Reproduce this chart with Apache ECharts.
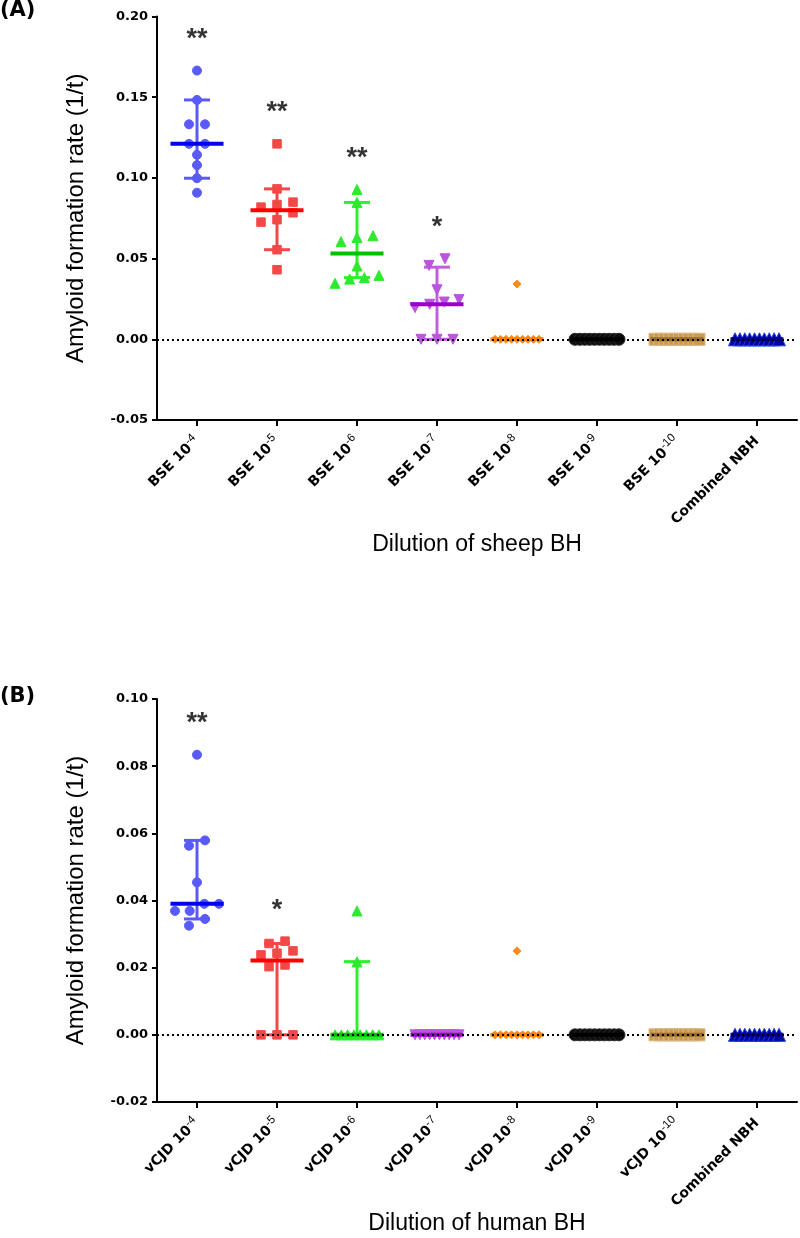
<!DOCTYPE html>
<html><head><meta charset="utf-8">
<script src="https://cdn.jsdelivr.net/npm/echarts@6/dist/echarts.min.js"></script>
<style>html,body{margin:0;padding:0;background:#fff}#c{width:800px;height:1238px}</style>
</head><body><div id="c"></div>
<script>
// ---------------- DATA ----------------
const categoriesA = ['BSE 10^-4','BSE 10^-5','BSE 10^-6','BSE 10^-7','BSE 10^-8','BSE 10^-9','BSE 10^-10','Combined NBH'];
const categoriesB = ['vCJD 10^-4','vCJD 10^-5','vCJD 10^-6','vCJD 10^-7','vCJD 10^-8','vCJD 10^-9','vCJD 10^-10','Combined NBH'];
const yTicksA = [-0.05, 0.00, 0.05, 0.10, 0.15, 0.20];
const yTicksB = [-0.02, 0.00, 0.02, 0.04, 0.06, 0.08, 0.10];

const pointsA_BSE4  = [0.1665, 0.1483, 0.1332, 0.1332, 0.1211, 0.1211, 0.1143, 0.1079, 0.0998, 0.0908];
const pointsA_BSE5  = [0.1211, 0.0932, 0.0850, 0.0819, 0.0835, 0.0784, 0.0741, 0.0726, 0.0555, 0.0431];
const pointsA_BSE6  = [0.0928, 0.0848, 0.0642, 0.0631, 0.0605, 0.0454, 0.0396, 0.0373, 0.0382, 0.0347];
const pointsA_BSE7  = [0.0499, 0.0458, 0.0307, 0.0247, 0.0231, 0.0217, 0.0196, 0.0, 0.0, 0.0];
const pointsA_BSE8  = [0.0342, 0, 0, 0, 0, 0, 0, 0, 0, 0];
const pointsA_BSE9  = [0, 0, 0, 0, 0, 0, 0, 0, 0, 0];
const pointsA_BSE10 = [0, 0, 0, 0, 0, 0, 0, 0, 0, 0];
const pointsA_NBH   = [0, 0, 0, 0, 0, 0, 0, 0, 0, 0];
const mediansA = [0.1211, 0.0800, 0.0532, 0.0217, 0, 0, 0, 0];
const errLowA  = [0.0998, 0.0555, 0.0382, 0.0, 0, 0, 0, 0];
const errHighA = [0.1483, 0.0932, 0.0848, 0.0447, 0, 0, 0, 0];
const starsA   = ['**', '**', '**', '*', '', '', '', ''];

const pointsB_vCJD4  = [0.0834, 0.0579, 0.0563, 0.0454, 0.0390, 0.0390, 0.0369, 0.0369, 0.0345, 0.0325];
const pointsB_vCJD5  = [0.0279, 0.0272, 0.0250, 0.0243, 0.0238, 0.0208, 0.0203, 0, 0, 0];
const pointsB_vCJD6  = [0.0369, 0.0217, 0, 0, 0, 0, 0, 0, 0, 0];
const pointsB_vCJD7  = [0, 0, 0, 0, 0, 0, 0, 0, 0, 0];
const pointsB_vCJD8  = [0.0250, 0, 0, 0, 0, 0, 0, 0, 0, 0];
const pointsB_vCJD9  = [0, 0, 0, 0, 0, 0, 0, 0, 0, 0];
const pointsB_vCJD10 = [0, 0, 0, 0, 0, 0, 0, 0, 0, 0];
const pointsB_NBH    = [0, 0, 0, 0, 0, 0, 0, 0, 0, 0];
const mediansB = [0.0390, 0.0221, 0, 0, 0, 0, 0, 0];
const errLowB  = [0.0345, 0, 0, 0, 0, 0, 0, 0];
const errHighB = [0.0579, 0.0272, 0.0218, 0, 0, 0, 0, 0];
const starsB   = ['**', '*', '', '', '', '', '', ''];

const pointsA = [pointsA_BSE4, pointsA_BSE5, pointsA_BSE6, pointsA_BSE7, pointsA_BSE8, pointsA_BSE9, pointsA_BSE10, pointsA_NBH];
const pointsB = [pointsB_vCJD4, pointsB_vCJD5, pointsB_vCJD6, pointsB_vCJD7, pointsB_vCJD8, pointsB_vCJD9, pointsB_vCJD10, pointsB_NBH];

// ---------------- STYLE ----------------
const groupStyles = [
  {symbol:'circle',   size:9,   rotate:0,   fill:'#5a5af6', border:'#5a5af6', err:'#5a5af6', med:'#0000ee'},
  {symbol:'rect',     size:8.5, rotate:0,   fill:'#f24848', border:'#f24848', err:'#f24848', med:'#ff0000'},
  {symbol:'triangle', size:10,  rotate:0,   fill:'#2eea2e', border:'#2eea2e', err:'#30ee30', med:'#00c000'},
  {symbol:'triangle', size:10,  rotate:180, fill:'#bb55dd', border:'#bb55dd', err:'#c060e0', med:'#9900cc'},
  {symbol:'diamond',  size:8,   rotate:0,   fill:'#ff8c1a', border:'#ff8c1a', err:'#ff8c1a', med:'#ff8000'},
  {symbol:'circle',   size:12,  rotate:0,   fill:'#0d0d0d', border:'#2a2a2a', err:'#111111', med:'#000000'},
  {symbol:'rect',     size:12,  rotate:0,   fill:'#c99a55', border:'#dcb880', err:'#c99a55', med:'#9b6b25'},
  {symbol:'triangle', size:13,  rotate:0,   fill:'#0000a8', border:'#2040e0', err:'#0000a8', med:'#00008b'}
];
const BOLD = "'DejaVu Sans', sans-serif";
const REG = "'Liberation Sans', Arial, sans-serif";

const panels = [
  {cats:categoriesA, pts:pointsA, med:mediansA, lo:errLowA, hi:errHighA, stars:starsA, ticks:yTicksA,
   grid:{left:157, top:16.5, width:640, height:403.5}, xName:'Dilution of sheep BH', xGap:113},
  {cats:categoriesB, pts:pointsB, med:mediansB, lo:errLowB, hi:errHighB, stars:starsB, ticks:yTicksB,
   grid:{left:157, top:699, width:640, height:403}, xName:'Dilution of human BH', xGap:90}
];

// horizontal spreading of coincident points (row layout, like a column scatter)
function spreadOffsets(vals, pxPerUnit) {
  const idx = vals.map((v, i) => i).sort((a, b) => vals[a] - vals[b]);
  const out = new Array(vals.length).fill(0);
  let rows = [], cur = [];
  idx.forEach(i => {
    if (cur.length && (vals[i] - vals[cur[0]]) * pxPerUnit > 10) { rows.push(cur); cur = []; }
    cur.push(i);
  });
  if (cur.length) rows.push(cur);
  rows.forEach(r => {
    const n = r.length;
    if (n === 1) return;
    const sp = Math.min(16, 44 / (n - 1));
    r.forEach((i, k) => { out[i] = (k - (n - 1) / 2) * sp; });
  });
  return out;
}

function catFormatter(v) {
  const p = v.split('^');
  return p.length > 1 ? '{b|' + p[0] + '}{s|' + p[1] + '}' : '{b|' + v + '}';
}

const option = {
  animation: false,
  backgroundColor: '#fff',
  title: [
    {text:'(A)', left:0, top:0, padding:0, textStyle:{fontFamily:BOLD, fontWeight:'bold', fontSize:21, color:'#000'}},
    {text:'(B)', left:0, top:686, padding:0, textStyle:{fontFamily:BOLD, fontWeight:'bold', fontSize:21, color:'#000'}}
  ],
  grid: panels.map(p => Object.assign({containLabel:false}, p.grid)),
  xAxis: panels.map((p, i) => ({
    type:'category', gridIndex:i, data:p.cats, boundaryGap:true,
    name:p.xName, nameLocation:'middle', nameGap:p.xGap,
    nameTextStyle:{fontFamily:REG, fontSize:23, color:'#000'},
    axisLine:{show:true, onZero:false, lineStyle:{color:'#000', width:2}},
    axisTick:{show:true, alignWithLabel:true, length:6, lineStyle:{color:'#000', width:2}},
    axisLabel:{rotate:45, interval:0, margin:19, formatter:catFormatter,
      rich:{
        b:{fontFamily:BOLD, fontWeight:'bold', fontSize:14, color:'#000', lineHeight:21},
        s:{fontFamily:REG, fontWeight:'normal', fontSize:11.5, color:'#000', lineHeight:11, verticalAlign:'top'}
      }},
    splitLine:{show:false}
  })),
  yAxis: panels.map((p, i) => ({
    type:'value', gridIndex:i,
    min:p.ticks[0], max:p.ticks[p.ticks.length - 1], interval:p.ticks[1] - p.ticks[0],
    name:'Amyloid formation rate (1/t)', nameLocation:'middle', nameGap:69, nameRotate:90,
    nameTextStyle:{fontFamily:REG, fontSize:24, color:'#000'},
    axisLine:{show:true, onZero:false, lineStyle:{color:'#000', width:2}},
    axisTick:{show:true, length:5, lineStyle:{color:'#000', width:2}},
    axisLabel:{fontFamily:BOLD, fontWeight:'bold', fontSize:13, color:'#000', margin:9,
      formatter:v => v.toFixed(2)},
    splitLine:{show:false}
  })),
  series: []
};

panels.forEach((p, pi) => {
  const yMin = p.ticks[0], yMax = p.ticks[p.ticks.length - 1];
  const pxPerUnit = p.grid.height / (yMax - yMin);
  // dotted zero reference line
  option.series.push({
    type:'line', xAxisIndex:pi, yAxisIndex:pi, data:[], z:1, silent:true,
    markLine:{silent:true, symbol:['none','none'], label:{show:false},
      lineStyle:{type:[2,3], color:'#000', width:2}, data:[{yAxis:0}]}
  });
  // error bars (under points)
  option.series.push({
    type:'custom', xAxisIndex:pi, yAxisIndex:pi, z:2, silent:true,
    data:p.med.map((m, g) => [g, m, p.lo[g], p.hi[g]]),
    encode:{x:0, y:[1,2,3]},
    renderItem:(params, api) => {
      const g = api.value(0);
      const lo = api.coord([g, api.value(2)]);
      const hi = api.coord([g, api.value(3)]);
      if (Math.abs(hi[1] - lo[1]) < 0.5) return {type:'group', children:[]};
      const c = groupStyles[g].err, x = lo[0], w = 13;
      const st = {stroke:c, lineWidth:3};
      return {type:'group', children:[
        {type:'line', shape:{x1:x, y1:lo[1], x2:x, y2:hi[1]}, style:st},
        {type:'line', shape:{x1:x - w, y1:hi[1], x2:x + w, y2:hi[1]}, style:st},
        {type:'line', shape:{x1:x - w, y1:lo[1], x2:x + w, y2:lo[1]}, style:st}
      ]};
    }
  });
  // points
  p.pts.forEach((vals, g) => {
    const s = groupStyles[g];
    const offs = spreadOffsets(vals, pxPerUnit);
    option.series.push({
      type:'scatter', xAxisIndex:pi, yAxisIndex:pi, z:3, silent:true,
      symbol:s.symbol, symbolSize:s.size, symbolRotate:s.rotate,
      itemStyle:{color:s.fill, borderColor:s.border, borderWidth:1, opacity:1},
      data:vals.map((v, k) => ({value:[g, v], symbolOffset:[offs[k], 0]}))
    });
  });
  // medians (over points)
  option.series.push({
    type:'custom', xAxisIndex:pi, yAxisIndex:pi, z:4, silent:true,
    data:p.med.map((m, g) => [g, m]),
    encode:{x:0, y:1},
    renderItem:(params, api) => {
      const g = api.value(0);
      const c = api.coord([g, api.value(1)]);
      return {type:'line', shape:{x1:c[0] - 26.5, y1:c[1], x2:c[0] + 26.5, y2:c[1]},
        style:{stroke:groupStyles[g].med, lineWidth:4}};
    }
  });
  // significance stars above each group's highest point
  option.series.push({
    type:'scatter', xAxisIndex:pi, yAxisIndex:pi, z:5, silent:true,
    symbolSize:2, itemStyle:{color:'rgba(0,0,0,0)'},
    data:p.stars.map((t, g) => t ? [g, Math.max.apply(null, p.pts[g])] : null).filter(d => d),
    label:{show:true, position:'inside', offset:[0, -31],
      fontFamily:REG, fontWeight:'bold', fontSize:27, color:'#000', textBorderWidth:0,
      formatter:prm => p.stars[prm.value[0]]}
  });
});

const chart = echarts.init(document.getElementById('c'), null, {renderer:'canvas'});
chart.setOption(option);
</script>
</body></html>
